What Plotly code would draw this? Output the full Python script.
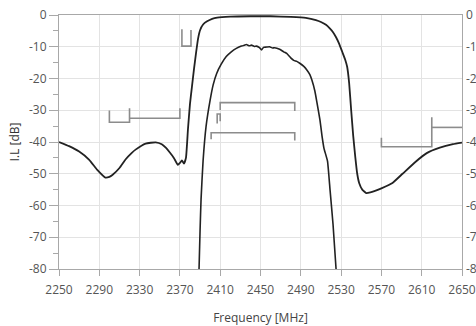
import plotly.graph_objects as go

# Wide filter response (upper curve)
wide_freq = [2250, 2260, 2270, 2280, 2288, 2296, 2300, 2303, 2310, 2316, 2322, 2326, 2336, 2346,
             2352, 2356, 2360, 2364, 2368, 2370, 2372, 2374, 2376, 2378, 2380, 2382, 2384, 2386,
             2388, 2390, 2393, 2397, 2402, 2407, 2420, 2440, 2460, 2480, 2495, 2505, 2510, 2515,
             2519, 2522, 2525, 2528, 2531, 2534, 2536, 2538, 2540, 2542, 2544, 2546, 2548, 2551,
             2555, 2559, 2563, 2570, 2581, 2591, 2604, 2615, 2628, 2641, 2650]
wide_il = [-40.0, -41.3, -43.0, -45.6, -48.8, -51.2, -51.0, -50.4, -48.2, -45.5, -43.5, -42.4, -40.5, -40.1,
           -40.7, -41.8, -43.3, -45.0, -47.2, -46.6, -45.8, -46.8, -45.0, -36.0, -28.0, -22.5, -17.0, -12.0,
           -7.5, -4.8, -3.0, -2.0, -1.2, -0.8, -0.5, -0.4, -0.4, -0.6, -0.9, -1.6, -2.2, -3.1,
           -4.3, -5.4, -7.0, -9.0, -11.5, -14.0, -16.3, -21.5, -30.0, -38.0, -44.5, -50.0, -53.0, -55.0,
           -56.1, -55.9, -55.5, -54.6, -52.9, -50.0, -46.2, -43.5, -41.8, -40.7, -40.2]

# Narrow filter response (lower curve)
narrow_freq = [2389, 2390, 2391, 2393, 2396, 2400, 2403, 2406.5, 2411, 2416, 2421, 2426, 2431, 2434,
               2436, 2439, 2441, 2444, 2446, 2449, 2451, 2453, 2456, 2459, 2462, 2464, 2469, 2473,
               2476, 2480, 2483, 2486, 2489, 2493, 2496, 2499, 2501, 2504, 2506, 2509, 2511, 2513,
               2516.5, 2519, 2522, 2525]
narrow_il = [-80, -68, -58, -46, -35, -26.8, -22, -18.4, -15.5, -13.1, -11.6, -10.5, -9.8, -9.5,
             -9.3, -9.7, -9.5, -9.9, -9.8, -10.3, -11.0, -10.2, -10.1, -10.0, -10.4, -10.3, -10.8, -11.6,
             -12.1, -13.5, -14.3, -14.6, -15.2, -16.2, -17.3, -18.8, -20.5, -24.0, -27.5, -33.0, -38.0, -42.0,
             -46.0, -55.0, -66.0, -80.0]

# Specification mask segments (None separates segments)
mask_freq = [2300, 2300, 2320, 2320, None,
             2320, 2370, 2370, None,
             2372, 2372, 2381, 2381, None,
             2410, 2410, 2484, 2484, None,
             2407, 2407, 2410, 2410, None,
             2401, 2401, 2484, 2484, None,
             2570, 2570, 2620, 2620, None,
             2620, 2650]
mask_il = [-30.1, -33.8, -33.8, -29.4, None,
           -32.5, -32.5, -29.4, None,
           -4.5, -9.8, -9.8, -4.7, None,
           -29.9, -27.6, -27.6, -30.2, None,
           -34.2, -31.2, -31.2, -33.5, None,
           -39.1, -37.1, -37.1, -39.5, None,
           -38.7, -41.5, -41.5, -32.2, None,
           -35.4, -35.4]

x_ticks = [2250, 2290, 2330, 2370, 2410, 2450, 2490, 2530, 2570, 2610, 2650]
y_ticks = [0, -10, -20, -30, -40, -50, -60, -70, -80]

fig = go.Figure()
fig.add_trace(go.Scatter(x=mask_freq, y=mask_il, mode="lines",
                         line=dict(color="#8c8c8c", width=1.6), connectgaps=False,
                         showlegend=False, hoverinfo="skip"))
fig.add_trace(go.Scatter(x=wide_freq, y=wide_il, mode="lines",
                         line=dict(color="#222222", width=1.8, shape="spline", smoothing=0.4),
                         showlegend=False))
fig.add_trace(go.Scatter(x=narrow_freq, y=narrow_il, mode="lines",
                         line=dict(color="#222222", width=1.6, shape="spline", smoothing=0.4),
                         showlegend=False))
fig.add_trace(go.Scatter(x=[], y=[], yaxis="y2", showlegend=False))

font = dict(family="Open Sans, DejaVu Sans, sans-serif", size=12, color="#555555")

fig.update_layout(
    width=476, height=326,
    margin=dict(l=59, r=14, t=15, b=57, autoexpand=False),
    paper_bgcolor="white", plot_bgcolor="white",
    font=font,
    xaxis=dict(range=[2250, 2650], tickvals=x_ticks, ticktext=[str(v) for v in x_ticks],
               showgrid=True, gridcolor="#e3e3e3", gridwidth=1,
               showline=True, linecolor="#a8a8a8", linewidth=1.2, mirror=True,
               ticks="outside", ticklen=6, tickcolor="#a8a8a8", ticklabelstandoff=3,
               zeroline=False, automargin=False,
               title=dict(text="Frequency [MHz]", font=dict(size=12, color="#444444"), standoff=18)),
    yaxis=dict(range=[-80, 0], tickvals=y_ticks, ticktext=[str(v) for v in y_ticks],
               showgrid=True, gridcolor="#e3e3e3", gridwidth=1,
               showline=True, linecolor="#a8a8a8", linewidth=1.2, mirror=True,
               ticks="outside", ticklen=9, tickcolor="#a8a8a8",
               minor=dict(dtick=5, tick0=0, ticks="outside", ticklen=5, tickcolor="#a8a8a8", showgrid=False),
               zeroline=False, automargin=False,
               title=dict(text="I.L [dB]", font=dict(size=12, color="#333333"), standoff=6)),
    yaxis2=dict(range=[-80, 0], tickvals=y_ticks, ticktext=[str(v) for v in y_ticks],
                overlaying="y", side="right", showgrid=False, zeroline=False,
                showline=False, ticks="", ticklabelstandoff=3, automargin=False),
)

fig.write_html("out.html", config={"displayModeBar": False},
               post_script="document.body.style.margin='0';document.body.style.overflow='hidden';")
